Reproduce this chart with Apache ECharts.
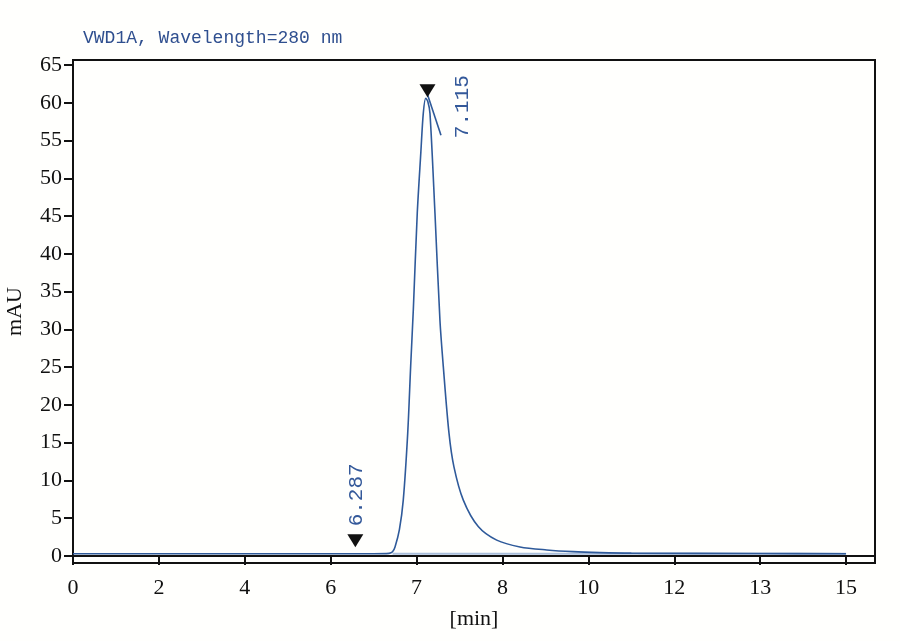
<!DOCTYPE html>
<html>
<head>
<meta charset="utf-8">
<script src="https://cdn.jsdelivr.net/npm/echarts@6/dist/echarts.min.js"></script>
<style>
  html, body { margin: 0; padding: 0; background: #fffffd; }
  #chart { width: 900px; height: 641px; }
</style>
</head>
<body>
<div id="chart"></div>
<script>
// x轴刻度标签（等间距显示）
var tickLabels = [0, 2, 4, 6, 7, 8, 10, 12, 13, 15];
var yTicks = [0, 5, 10, 15, 20, 25, 30, 35, 40, 45, 50, 55, 60, 65];

// 色谱曲线 (min, mAU)
var times = [0, 3, 6.5, 6.68, 6.72, 6.749, 6.8, 6.845, 6.897, 6.931, 6.962, 7.008, 7.05, 7.078, 7.106,
  7.13, 7.156, 7.214, 7.272, 7.311, 7.377, 7.435, 7.544, 7.718, 7.933, 8.408, 9.03, 9.64, 10.27, 11, 13, 15];
var signal = [0.3, 0.3, 0.3, 0.35, 0.55, 1.2, 3.5, 7.4, 16.3, 25.1, 32.6, 45.4, 53.5, 58.6, 60.6,
  60.2, 58.6, 45.4, 31.2, 25.1, 16.3, 11.8, 7.4, 3.9, 2.1, 1.2, 0.8, 0.57, 0.45, 0.38, 0.33, 0.3];

// 积分基线
var baseTimes = [6.72, 15];
var baseValues = [0.3, 0.3];

// 峰标记
var peakTimes = [6.287, 7.127];
var peakValues = [2.0, 61.6];
var peakNames = ['6.287', '7.115'];
var peakTickTimes = [7.127, 7.284];
var peakTickValues = [61.1, 55.7];

// 分段线性：时间 -> 刻度位置
function toIdx(t) {
  for (var i = 0; i < tickLabels.length - 1; i++) {
    if (t <= tickLabels[i + 1] || i === tickLabels.length - 2) {
      return i + (t - tickLabels[i]) / (tickLabels[i + 1] - tickLabels[i]);
    }
  }
}

function pairs(xs, ys) {
  return xs.map(function (t, i) { return [toIdx(t), ys[i]]; });
}

var chart = echarts.init(document.getElementById('chart'));
var serif = 'Liberation Serif';
var mono = 'Liberation Mono';
var blue = '#2f5a9a';

// 标签旋转90°后 offset 在旋转坐标系内
var labelOffsets = [[46, 1], [-16, 35]];

chart.setOption({
  backgroundColor: '#fffffd',
  animation: false,
  title: {
    text: 'VWD1A, Wavelength=280 nm',
    left: 78,
    top: 24,
    textStyle: { fontFamily: mono, fontSize: 18, fontWeight: 'normal', color: '#2f4f8f' }
  },
  grid: {
    left: 73, right: 25, top: 60, bottom: 78,
    outerBoundsMode: 'none',
    containLabel: false,
    show: true, borderColor: '#111', borderWidth: 2, backgroundColor: 'transparent'
  },
  xAxis: {
    type: 'value',
    min: 0,
    max: 9.337,
    name: '[min]',
    nameLocation: 'middle',
    nameGap: 45,
    nameTextStyle: { fontFamily: serif, fontSize: 22, color: '#111' },
    axisLine: { lineStyle: { color: '#111', width: 2 } },
    axisTick: { customValues: [0, 1, 2, 3, 4, 5, 6, 7, 8, 9], length: 9, lineStyle: { color: '#111', width: 2 } },
    axisLabel: {
      customValues: [0, 1, 2, 3, 4, 5, 6, 7, 8, 9],
      formatter: function (v) { return tickLabels[Math.round(v)]; },
      fontFamily: serif, fontSize: 22, color: '#111', margin: 14
    },
    splitLine: { show: false }
  },
  yAxis: {
    type: 'value',
    min: -0.93,
    max: 65.66,
    name: 'mAU',
    nameLocation: 'middle',
    nameGap: 47,
    nameTextStyle: { fontFamily: serif, fontSize: 22, color: '#111' },
    axisLine: { lineStyle: { color: '#111', width: 2 } },
    axisTick: { customValues: yTicks, length: 9, lineStyle: { color: '#111', width: 2 } },
    axisLabel: { customValues: yTicks, fontFamily: serif, fontSize: 22, color: '#111', margin: 11 },
    splitLine: { show: false }
  },
  series: [
    {
      type: 'line',
      data: pairs(baseTimes, baseValues),
      symbol: 'none',
      lineStyle: { color: '#a9bedb', width: 2 },
      z: 1
    },
    {
      type: 'line',
      data: pairs(times, signal),
      smooth: 0.3,
      symbol: 'none',
      lineStyle: { color: blue, width: 1.6 },
      z: 2
    },
    {
      type: 'line',
      data: pairs(peakTickTimes, peakTickValues),
      symbol: 'none',
      lineStyle: { color: blue, width: 1.6 },
      z: 3
    },
    {
      type: 'scatter',
      data: pairs(peakTimes, peakValues).map(function (p, i) {
        return {
          value: p,
          label: {
            show: true,
            formatter: peakNames[i],
            rotate: 90,
            offset: labelOffsets[i]
          }
        };
      }),
      symbol: 'triangle',
      symbolRotate: 180,
      symbolSize: [16, 13],
      itemStyle: { color: '#111', opacity: 1 },
      label: {
        position: 'inside',
        fontFamily: mono,
        fontSize: 21,
        color: '#34599a'
      },
      z: 4
    }
  ]
});
</script>
</body>
</html>
